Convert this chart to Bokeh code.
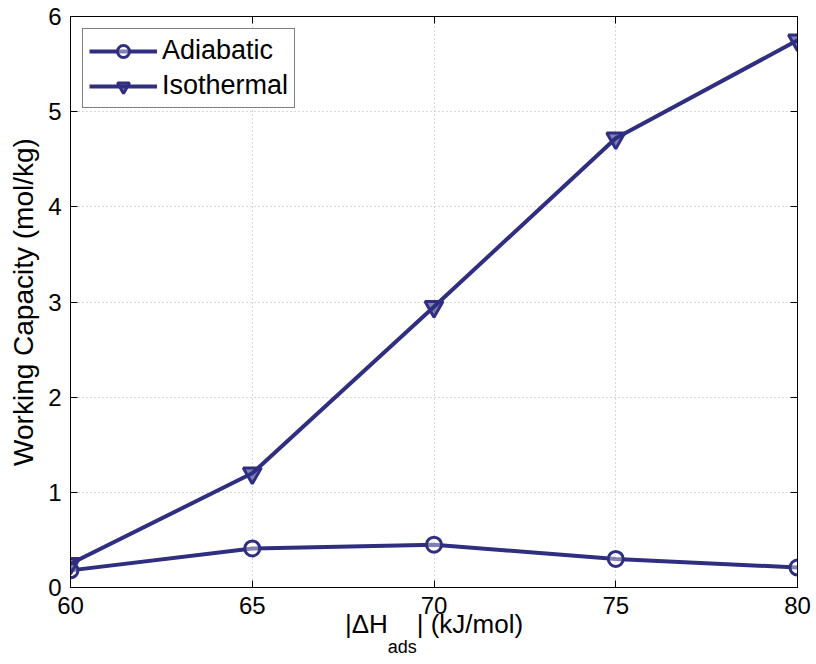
from bokeh.plotting import figure
from bokeh.models import LinearAxis, Legend, LegendItem, Label, Range1d, FixedTicker
from bokeh.embed import file_html
from bokeh.resources import INLINE

x_vals = [60, 65, 70, 75, 80]
adiabatic = [0.18, 0.41, 0.45, 0.30, 0.21]
isothermal = [0.25, 1.20, 2.95, 4.72, 5.75]
x_ticks = [60, 65, 70, 75, 80]
y_ticks = [0, 1, 2, 3, 4, 5, 6]

COLOR = "#2f2e80"
FONT = "Liberation Sans"

p = figure(width=816, height=664, output_backend="svg", toolbar_location=None,
           x_range=Range1d(60, 80), y_range=Range1d(0, 6),
           min_border_left=70, min_border_right=19, min_border_top=16, min_border_bottom=77)
p.background_fill_color = "white"
p.border_fill_color = "white"
p.outline_line_color = "black"
p.outline_line_width = 1

r1 = p.line(x_vals, adiabatic, line_color=COLOR, line_width=4)
m1 = p.scatter(x_vals, adiabatic, marker="circle", size=15, line_color=COLOR,
               line_width=3, fill_color="white", fill_alpha=0.4)
r2 = p.line(x_vals, isothermal, line_color=COLOR, line_width=4)
m2 = p.scatter(x_vals, isothermal, marker="inverted_triangle", size=18, line_color=COLOR,
               line_width=3, fill_color=COLOR, fill_alpha=0.6)

for ax in (p.xaxis[0], p.yaxis[0]):
    ax.major_label_text_font = FONT
    ax.major_label_text_font_size = "24px"
    ax.major_label_text_color = "black"
    ax.major_tick_in = 7
    ax.major_tick_out = 0
    ax.minor_tick_line_color = None
    ax.axis_line_color = "black"
    ax.major_tick_line_color = "black"
    ax.axis_label_text_font = FONT
    ax.axis_label_text_font_style = "normal"
    ax.axis_label_text_color = "black"

p.xaxis.ticker = FixedTicker(ticks=x_ticks)
p.yaxis.ticker = FixedTicker(ticks=y_ticks)
p.xaxis.major_label_standoff = 9
p.yaxis.major_label_standoff = 9
p.yaxis.axis_label = "Working Capacity (mol/kg)"
p.yaxis.axis_label_text_font_size = "28px"
p.yaxis.axis_label_standoff = 6

# x axis label; the subscript "ads" is placed in the gap below
NB = "\u00a0"
p.xaxis.axis_label = "|ΔH" + NB * 4 + "| (kJ/mol)"
p.xaxis.axis_label_text_font_size = "26px"
p.xaxis.axis_label_standoff = -8

# top and right axes with inward ticks only
top = LinearAxis(ticker=FixedTicker(ticks=x_ticks), major_label_overrides={t: "" for t in x_ticks})
right = LinearAxis(ticker=FixedTicker(ticks=y_ticks), major_label_overrides={t: "" for t in y_ticks})
for ax in (top, right):
    ax.major_tick_in = 7
    ax.major_tick_out = 0
    ax.minor_tick_line_color = None
    ax.axis_line_color = "black"
    ax.major_label_standoff = 0
    ax.major_label_text_font_size = "1px"
p.add_layout(top, "above")
p.add_layout(right, "right")

p.xgrid.ticker = FixedTicker(ticks=x_ticks)
p.ygrid.ticker = FixedTicker(ticks=y_ticks)
for g in (p.xgrid[0], p.ygrid[0]):
    g.grid_line_color = "#b0b0b0"
    g.grid_line_dash = "1 3"
    g.grid_line_width = 1

p.add_layout(Label(x=68.73, y=15, y_units="screen", text="ads", text_font=FONT,
                   text_font_size="18px", text_color="black",
                   text_baseline="alphabetic", text_align="left"), "below")

legend = Legend(items=[LegendItem(label="Adiabatic", renderers=[r1, m1]),
                       LegendItem(label="Isothermal", renderers=[r2, m2])],
                location="top_left")
legend.label_text_font = FONT
legend.label_text_font_size = "27px"
legend.label_text_color = "black"
legend.glyph_width = 68
legend.glyph_height = 30
legend.label_height = 30
legend.spacing = 4
legend.padding = 6
legend.margin = 12
legend.border_line_color = "black"
legend.border_line_width = 1
legend.background_fill_alpha = 1
p.add_layout(legend)

open("out.html", "w").write(file_html(p, INLINE))
